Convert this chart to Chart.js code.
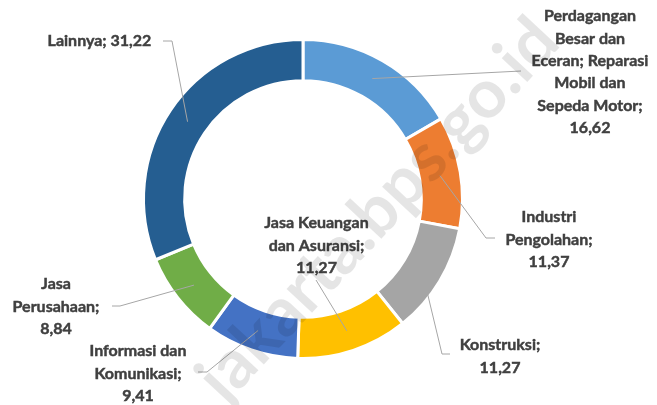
<!DOCTYPE html>
<html>
<head>
<meta charset="utf-8">
<script src="https://cdn.jsdelivr.net/npm/chart.js@4"></script>
<style>
  html, body { margin: 0; padding: 0; background: #ffffff; }
  #wrap { width: 657px; height: 405px; }
</style>
</head>
<body>
<div id="wrap"><canvas id="chart" width="657" height="405"></canvas></div>
<script>
// sector shares (%)
var sectors = [
    'Perdagangan Besar dan Eceran; Reparasi Mobil dan Sepeda Motor',
    'Industri Pengolahan',
    'Konstruksi',
    'Jasa Keuangan dan Asuransi',
    'Informasi dan Komunikasi',
    'Jasa Perusahaan',
    'Lainnya'
];
var shares = [16.62, 11.37, 11.27, 11.27, 9.41, 8.84, 31.22];
var sliceColors = ['#5B9BD5', '#ED7D31', '#A5A5A5', '#FFC000', '#4472C4', '#70AD47', '#255E91'];

// how each label is broken into lines (value appended on the last line)
var labelLines = [
    ['Perdagangan', 'Besar dan', 'Eceran; Reparasi', 'Mobil dan', 'Sepeda Motor;'],
    ['Industri', 'Pengolahan;'],
    ['Konstruksi;'],
    ['Jasa Keuangan', 'dan Asuransi;'],
    ['Informasi dan', 'Komunikasi;'],
    ['Jasa', 'Perusahaan;'],
    ['Lainnya;']
];

// label placement: text centre x, first line y, leader elbow and end
var labelPos = [
    { x: 590, y: 16, elbow: [521, 71], end: [521, 71] },
    { x: 549, y: 217, elbow: [486, 238], end: [495, 238] },
    { x: 500, y: 345, elbow: [442, 354], end: [450, 354] },
    { x: 316.5, y: 223, elbow: [316, 280], end: [316, 280] },
    { x: 138, y: 351, elbow: [207, 372], end: [198, 372] },
    { x: 56, y: 284, elbow: [120, 306], end: [112, 306] },
    { x: 99.5, y: 41, elbow: [172, 41], end: [163, 41], inline: true }
];

function fmt(v) {
    return v.toFixed(2).replace('.', ',');
}

const labelPlugin = {
    id: 'calloutLabels',
    afterDatasetsDraw(chart) {
        const ctx = chart.ctx;
        const arcs = chart.getDatasetMeta(0).data;
        ctx.save();

        // leader lines
        ctx.strokeStyle = '#A6A6A6';
        ctx.lineWidth = 1;
        arcs.forEach((arc, i) => {
            const p = arc.tooltipPosition();
            const pos = labelPos[i];
            ctx.beginPath();
            ctx.moveTo(p.x, p.y);
            ctx.lineTo(pos.elbow[0], pos.elbow[1]);
            ctx.lineTo(pos.end[0], pos.end[1]);
            ctx.stroke();
        });

        // label texts (thin stroke to thicken the bold face a little)
        ctx.fillStyle = '#404040';
        ctx.strokeStyle = '#404040';
        ctx.lineWidth = 0.45;
        ctx.font = 'bold 16px Lato';
        ctx.textAlign = 'center';
        ctx.textBaseline = 'middle';
        labelLines.forEach((lines, i) => {
            const pos = labelPos[i];
            let all;
            if (pos.inline) {
                all = [lines[0] + ' ' + fmt(shares[i])];
            } else {
                all = lines.concat([fmt(shares[i])]);
            }
            all.forEach((t, k) => {
                ctx.fillText(t, pos.x, pos.y + k * 22.4);
                ctx.strokeText(t, pos.x, pos.y + k * 22.4);
            });
        });
        ctx.restore();
    },
    afterDraw(chart) {
        // site watermark
        const ctx = chart.ctx;
        ctx.save();
        ctx.translate(378, 210);
        ctx.rotate(-47 * Math.PI / 180);
        ctx.font = 'bold 68px Lato';
        ctx.fillStyle = 'rgba(0, 0, 0, 0.1)';
        ctx.textAlign = 'center';
        ctx.textBaseline = 'middle';
        ctx.fillText('jakarta.bps.go.id', 0, 0);
        ctx.restore();
    }
};

new Chart(document.getElementById('chart'), {
    type: 'doughnut',
    data: {
        labels: sectors,
        datasets: [{
            data: shares,
            backgroundColor: sliceColors,
            borderColor: '#ffffff',
            borderWidth: 3
        }]
    },
    options: {
        responsive: false,
        animation: false,
        events: [],
        cutout: '74.2%',
        layout: {
            padding: { left: 142, right: 193, top: 38, bottom: 45 }
        },
        plugins: {
            legend: { display: false },
            tooltip: { enabled: false }
        }
    },
    plugins: [labelPlugin]
});
</script>
</body>
</html>
